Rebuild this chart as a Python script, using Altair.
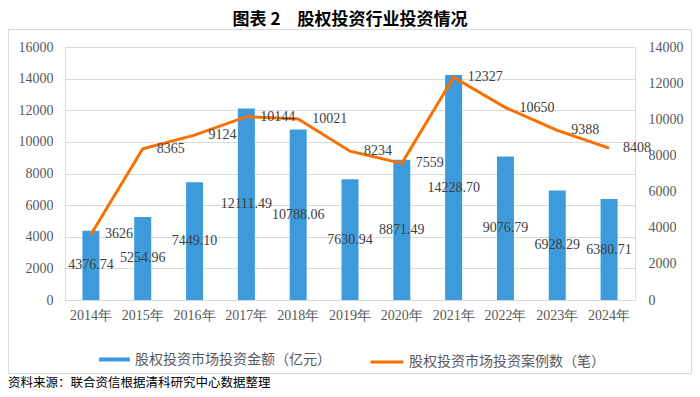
import altair as alt
import pandas as pd

years = ["2014年", "2015年", "2016年", "2017年", "2018年", "2019年",
         "2020年", "2021年", "2022年", "2023年", "2024年"]
amounts = [4376.74, 5254.96, 7449.10, 12111.49, 10788.06, 7630.94,
           8871.49, 14228.70, 9076.79, 6928.29, 6380.71]
cases = [3626, 8365, 9124, 10144, 10021, 8234, 7559, 12327, 10650, 9388, 8408]

bar_name = "股权投资市场投资金额（亿元）"
line_name = "股权投资市场投资案例数（笔）"
title_text = "图表 2\u3000股权投资行业投资情况"
source_text = "资料来源：联合资信根据清科研究中心数据整理"

left_ticks = list(range(0, 16001, 2000))
right_ticks = list(range(0, 14001, 2000))

BLUE = "#3E9BDB"
ORANGE = "#FA7000"
GRID = "#D9D9D9"
LABEL = "#595959"
NUM_FONT = "Liberation Serif"
CJK_FONT = "Noto Sans CJK SC"

df = pd.DataFrame({"year": years, "amount": amounts, "cases": cases})
df["half"] = df["amount"] / 2
df["s1"] = bar_name
df["s2"] = line_name

base = alt.Chart(df)

xenc = alt.X("year:N", sort=years, title=None,
             scale=alt.Scale(paddingInner=0, paddingOuter=0),
             axis=alt.Axis(labelAngle=0, labelFont=NUM_FONT, labelFontSize=14,
                           labelColor=LABEL, ticks=False, domainColor=GRID,
                           labelPadding=8))
xplain = alt.X("year:N", sort=years)

bars = base.mark_bar(size=17).encode(
    x=xenc,
    y=alt.Y("amount:Q", scale=alt.Scale(domain=[0, 16000], nice=False), title=None,
            axis=alt.Axis(orient="left", values=left_ticks, format="d",
                          grid=True, gridColor=GRID, domain=False, ticks=False,
                          labelPadding=12, labelFont=NUM_FONT, labelFontSize=14,
                          labelColor=LABEL)),
    fill=alt.Fill("s1:N", scale=alt.Scale(domain=[bar_name], range=[BLUE]),
                  legend=alt.Legend(orient="none", legendX=34, legendY=297,
                                    title=None, padding=0,
                                    symbolType="M-1,-0.13L1,-0.13L1,0.13L-1,0.13Z",
                                    symbolSize=961, symbolStrokeWidth=0,
                                    labelOffset=5, labelLimit=400,
                                    labelFont=CJK_FONT, labelFontSize=14,
                                    labelColor=LABEL)),
)

bar_text = base.mark_text(font=NUM_FONT, fontSize=14, color="#404040",
                          baseline="middle").encode(
    x=xplain,
    y=alt.Y("half:Q", scale=alt.Scale(domain=[0, 16000], nice=False), axis=None),
    text=alt.Text("amount:Q", format=".2f"),
)

line = base.mark_line(strokeWidth=3).encode(
    x=xplain,
    y=alt.Y("cases:Q", scale=alt.Scale(domain=[0, 14000], nice=False), title=None,
            axis=alt.Axis(orient="right", values=right_ticks, format="d",
                          grid=False, domain=False, ticks=False,
                          labelPadding=13, labelFont=NUM_FONT, labelFontSize=14,
                          labelColor=LABEL)),
    stroke=alt.Stroke("s2:N", scale=alt.Scale(domain=[line_name], range=[ORANGE]),
                      legend=alt.Legend(orient="none", legendX=304, legendY=297,
                                        title=None, padding=0,
                                        symbolType="stroke", symbolSize=1089,
                                        symbolStrokeWidth=3, labelOffset=4,
                                        labelLimit=400, labelFont=CJK_FONT,
                                        labelFontSize=14, labelColor=LABEL)),
)

line_text = base.mark_text(font=NUM_FONT, fontSize=14, color="#404040",
                           align="left", baseline="middle", dx=14).encode(
    x=xplain,
    y=alt.Y("cases:Q", scale=alt.Scale(domain=[0, 14000], nice=False), axis=None),
    text=alt.Text("cases:Q", format="d"),
)

dummy = alt.Chart(pd.DataFrame({"a": [0]}))
frame = dummy.mark_rect(fill="transparent", stroke=GRID, strokeWidth=1).encode(
    x=alt.value(-56.5), x2=alt.value(626.5),
    y=alt.value(-17.5), y2=alt.value(326.5),
)
source = dummy.mark_text(align="left", baseline="middle", font=CJK_FONT,
                         fontSize=12.5, color="#000000").encode(
    x=alt.value(-57), y=alt.value(336), text=alt.value(source_text),
)
title = dummy.mark_text(align="center", baseline="middle", font=CJK_FONT,
                        fontSize=17, fontWeight="bold", color="#000000").encode(
    x=alt.value(285), y=alt.value(-27), text=alt.value(title_text),
)

chart = alt.layer(
    bars, bar_text, line, line_text, frame, source, title,
).resolve_scale(y="independent").properties(
    width=570, height=253,
    padding={"left": 57, "top": 39, "right": 57, "bottom": 90},
    autosize=alt.AutoSizeParams(type="none"),
).configure_view(stroke=None).configure(background="white")

chart.save("out.html", embed_options={"renderer": "svg", "actions": False})
